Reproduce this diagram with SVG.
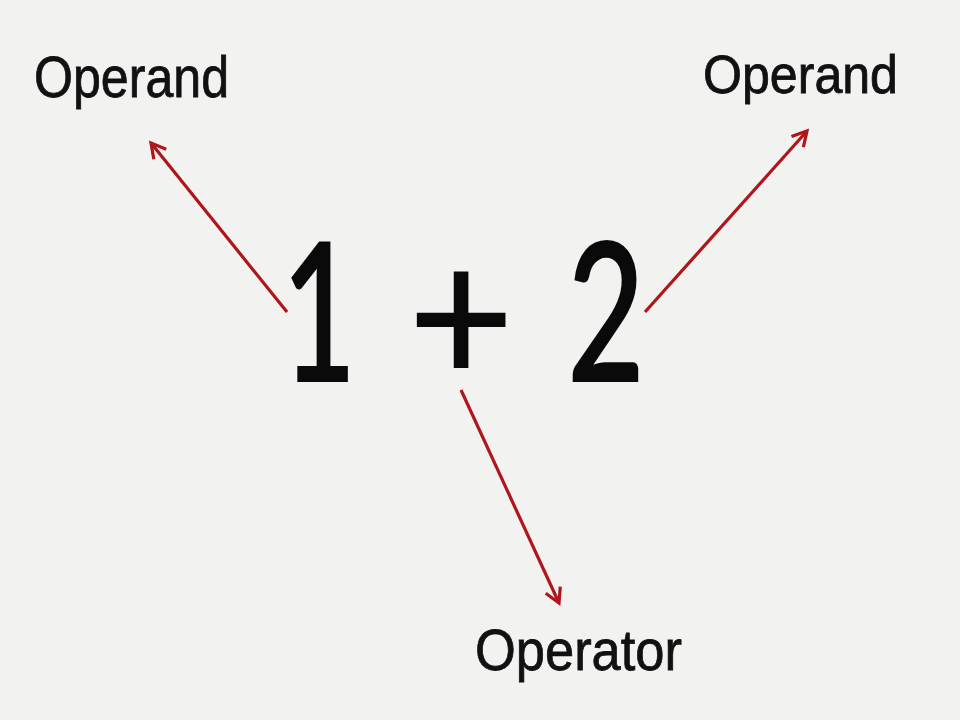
<svg xmlns="http://www.w3.org/2000/svg" width="960" height="720" viewBox="0 0 960 720">
<style>
.lbl{font-family:"Liberation Sans","DejaVu Sans",sans-serif;font-size:58px;fill:#111;stroke:#111;stroke-width:0.8}
.expr{font-family:Lato,"DejaVu Sans",sans-serif;font-size:195px;font-weight:600;fill:#0a0a0a;text-anchor:middle}
.arr{stroke:#b0151b;stroke-width:3.2;fill:none;marker-end:url(#ah)}
</style>
<defs>
<marker id="ah" viewBox="0 0 12 12" refX="10" refY="6" markerWidth="6" markerHeight="6" markerUnits="strokeWidth" orient="auto">
<path d="M1,1 L10,6 L1,11" fill="none" stroke="#b0151b" stroke-width="2"/>
</marker>
</defs>
<rect width="960" height="720" fill="#f2f2f0"/>
<g id="expression">
<text class="expr" transform="translate(319,382) scale(0.66,1)">1</text>
<text class="expr" transform="translate(461,385) scale(0.8,0.84)" style="font-size:230px;font-weight:500">+</text>
<text class="expr" transform="translate(606,382) scale(0.69,1)">2</text>
</g>
<g id="operand-left"><text class="lbl" x="34" y="97" textLength="195" lengthAdjust="spacingAndGlyphs">Operand</text></g>
<g id="operand-right"><text class="lbl" x="703" y="93" textLength="195" lengthAdjust="spacingAndGlyphs" style="font-size:53px">Operand</text></g>
<g id="operator"><text class="lbl" x="475" y="670" textLength="207" lengthAdjust="spacingAndGlyphs">Operator</text></g>
<g id="connectors">
<line class="arr" x1="287" y1="312" x2="151" y2="143"/>
<line class="arr" x1="645" y1="312" x2="807" y2="131"/>
<line class="arr" x1="461" y1="390" x2="559" y2="603"/>
</g>
</svg>
